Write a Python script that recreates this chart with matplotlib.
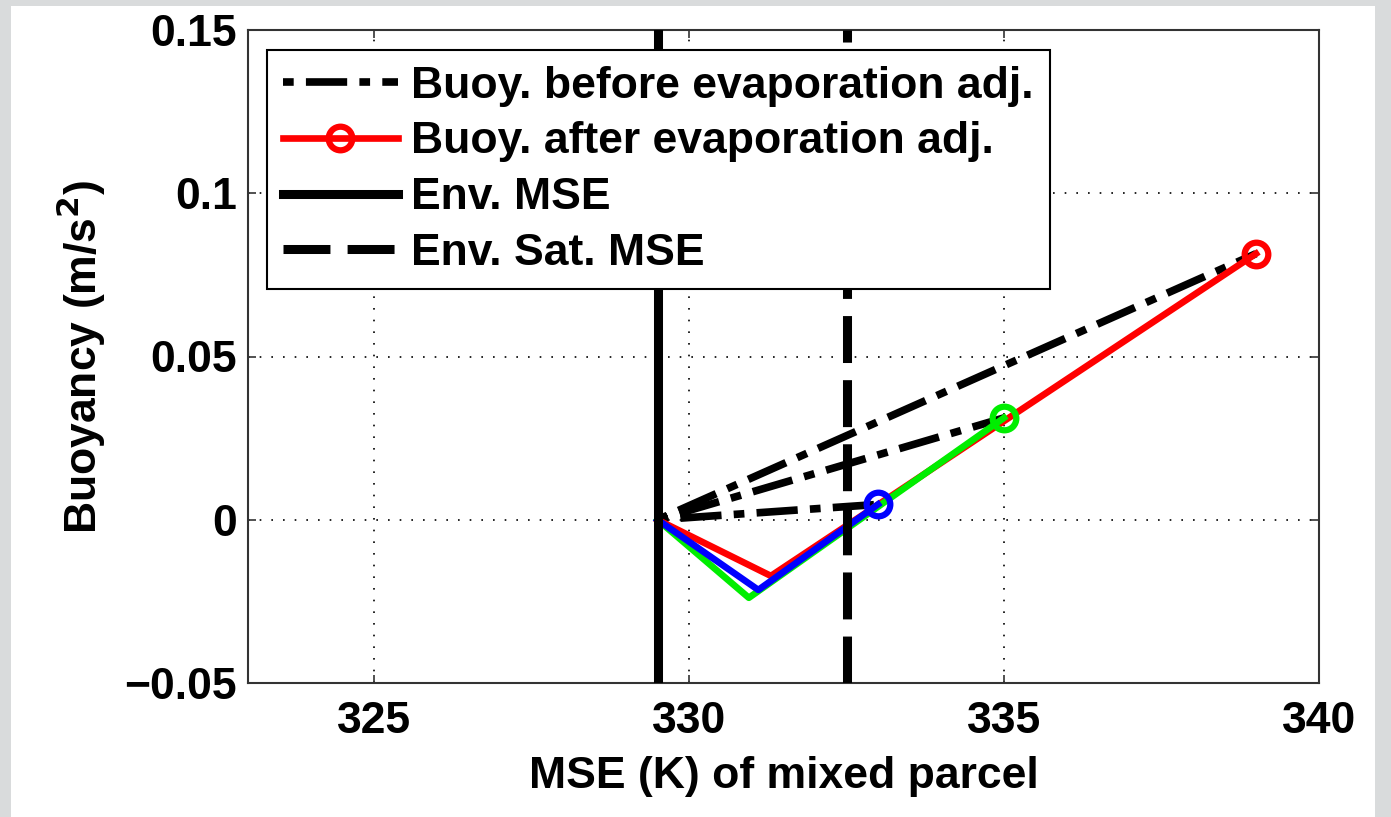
import matplotlib
matplotlib.use("Agg")
import matplotlib.pyplot as plt
from matplotlib.patches import Rectangle

plt.rcParams['font.family'] = ['Liberation Sans', 'DejaVu Sans']
plt.rcParams['font.weight'] = 'bold'

# environment reference values (K)
env_mse = 329.5
env_sat_mse = 332.5

# mixing lines: start at env MSE, dip to the evaporation minimum, end at parcel MSE
red_mse = [329.5, 331.3, 339.0]
red_buoy = [0.0, -0.0172, 0.0815]
green_mse = [329.5, 330.95, 335.0]
green_buoy = [0.0, -0.0239, 0.0312]
blue_mse = [329.5, 331.1, 333.0]
blue_buoy = [0.0, -0.0215, 0.0047]

# straight line before the evaporation adjustment
before_start = (329.5, 0.0)
before_end_mse = [333.0, 335.0, 339.0]
before_end_buoy = [0.0047, 0.0312, 0.0815]

xticks = [325, 330, 335, 340]
yticks = [-0.05, 0, 0.05, 0.1, 0.15]
ytick_labels = ['\u22120.05', '0', '0.05', '0.1', '0.15']

FS = 32

fig = plt.figure(figsize=(13.91, 8.17), dpi=100)
fig.patch.set_facecolor('#d9dbdc')
# white page behind the plot, grey frame around it
fig.patches.append(Rectangle((11 / 1391, 0), (1375 - 11) / 1391, 1 - 6 / 817,
                             transform=fig.transFigure, facecolor='white',
                             edgecolor='none', zorder=-5))

ax = fig.add_axes([248 / 1391, 1 - 683 / 817, (1319 - 248) / 1391, (683 - 30) / 817])

# dot first, then the long dash
dashdot = (7.0, (5.4, 1.6, 1.4, 1.6))
for xe, ye in zip(before_end_mse, before_end_buoy):
    h_before, = ax.plot([before_start[0], xe], [before_start[1], ye], color='k',
                        lw=5.5, linestyle=dashdot, dash_capstyle='butt', zorder=2)

h_red, = ax.plot(red_mse, red_buoy, color='#ff0000', lw=4.8, marker='o', markevery=[-1],
                 ms=17, mew=4.5, mfc='none', zorder=3)
ax.plot(green_mse, green_buoy, color='#00ee00', lw=4.8, marker='o', markevery=[-1],
        ms=17, mew=4.5, mfc='none', zorder=3)
ax.plot(blue_mse, blue_buoy, color='#0000ff', lw=4.8, marker='o', markevery=[-1],
        ms=17, mew=4.5, mfc='none', zorder=3)

h_env = ax.axvline(env_mse, color='k', lw=6.5, zorder=4)
h_sat = ax.axvline(env_sat_mse, color='k', lw=6.5, linestyle=(0, (5.2, 1.9)),
                   dash_capstyle='butt', zorder=4)

ax.set_xlim(323, 340)
ax.set_ylim(-0.05, 0.15)
ax.set_xticks(xticks)
ax.set_yticks(yticks)
ax.set_yticklabels(ytick_labels)
ax.tick_params(direction='in', length=6, width=1.2, labelsize=FS, top=True, right=True,
               colors='#333333', labelcolor='black')
ax.tick_params(axis='x', pad=13)
ax.tick_params(axis='y', pad=8)
ax.grid(True, color='black', linestyle=(0, (1, 6)), linewidth=1.2)
for s in ax.spines.values():
    s.set_color('#333333')
    s.set_linewidth(1.5)

ax.set_xlabel('MSE (K) of mixed parcel', fontsize=FS, fontweight='bold', labelpad=10)
ax.set_ylabel('Buoyancy (m/s$^\\mathbf{2}$)', fontsize=FS, fontweight='bold', labelpad=12)

leg = ax.legend([h_before, h_red, h_env, h_sat],
                ['Buoy. before evaporation adj.', 'Buoy. after evaporation adj.',
                 'Env. MSE', 'Env. Sat. MSE'],
                loc='upper left', bbox_to_anchor=(0.0177, 0.969), borderaxespad=0,
                fontsize=FS, handlelength=2.6, handletextpad=0.3, labelspacing=0.33,
                borderpad=0.35, fancybox=False, framealpha=1, edgecolor='black')
leg.get_frame().set_linewidth(1.5)
leg.set_zorder(5)

fig.savefig('out.png', dpi=100, facecolor=fig.get_facecolor())
